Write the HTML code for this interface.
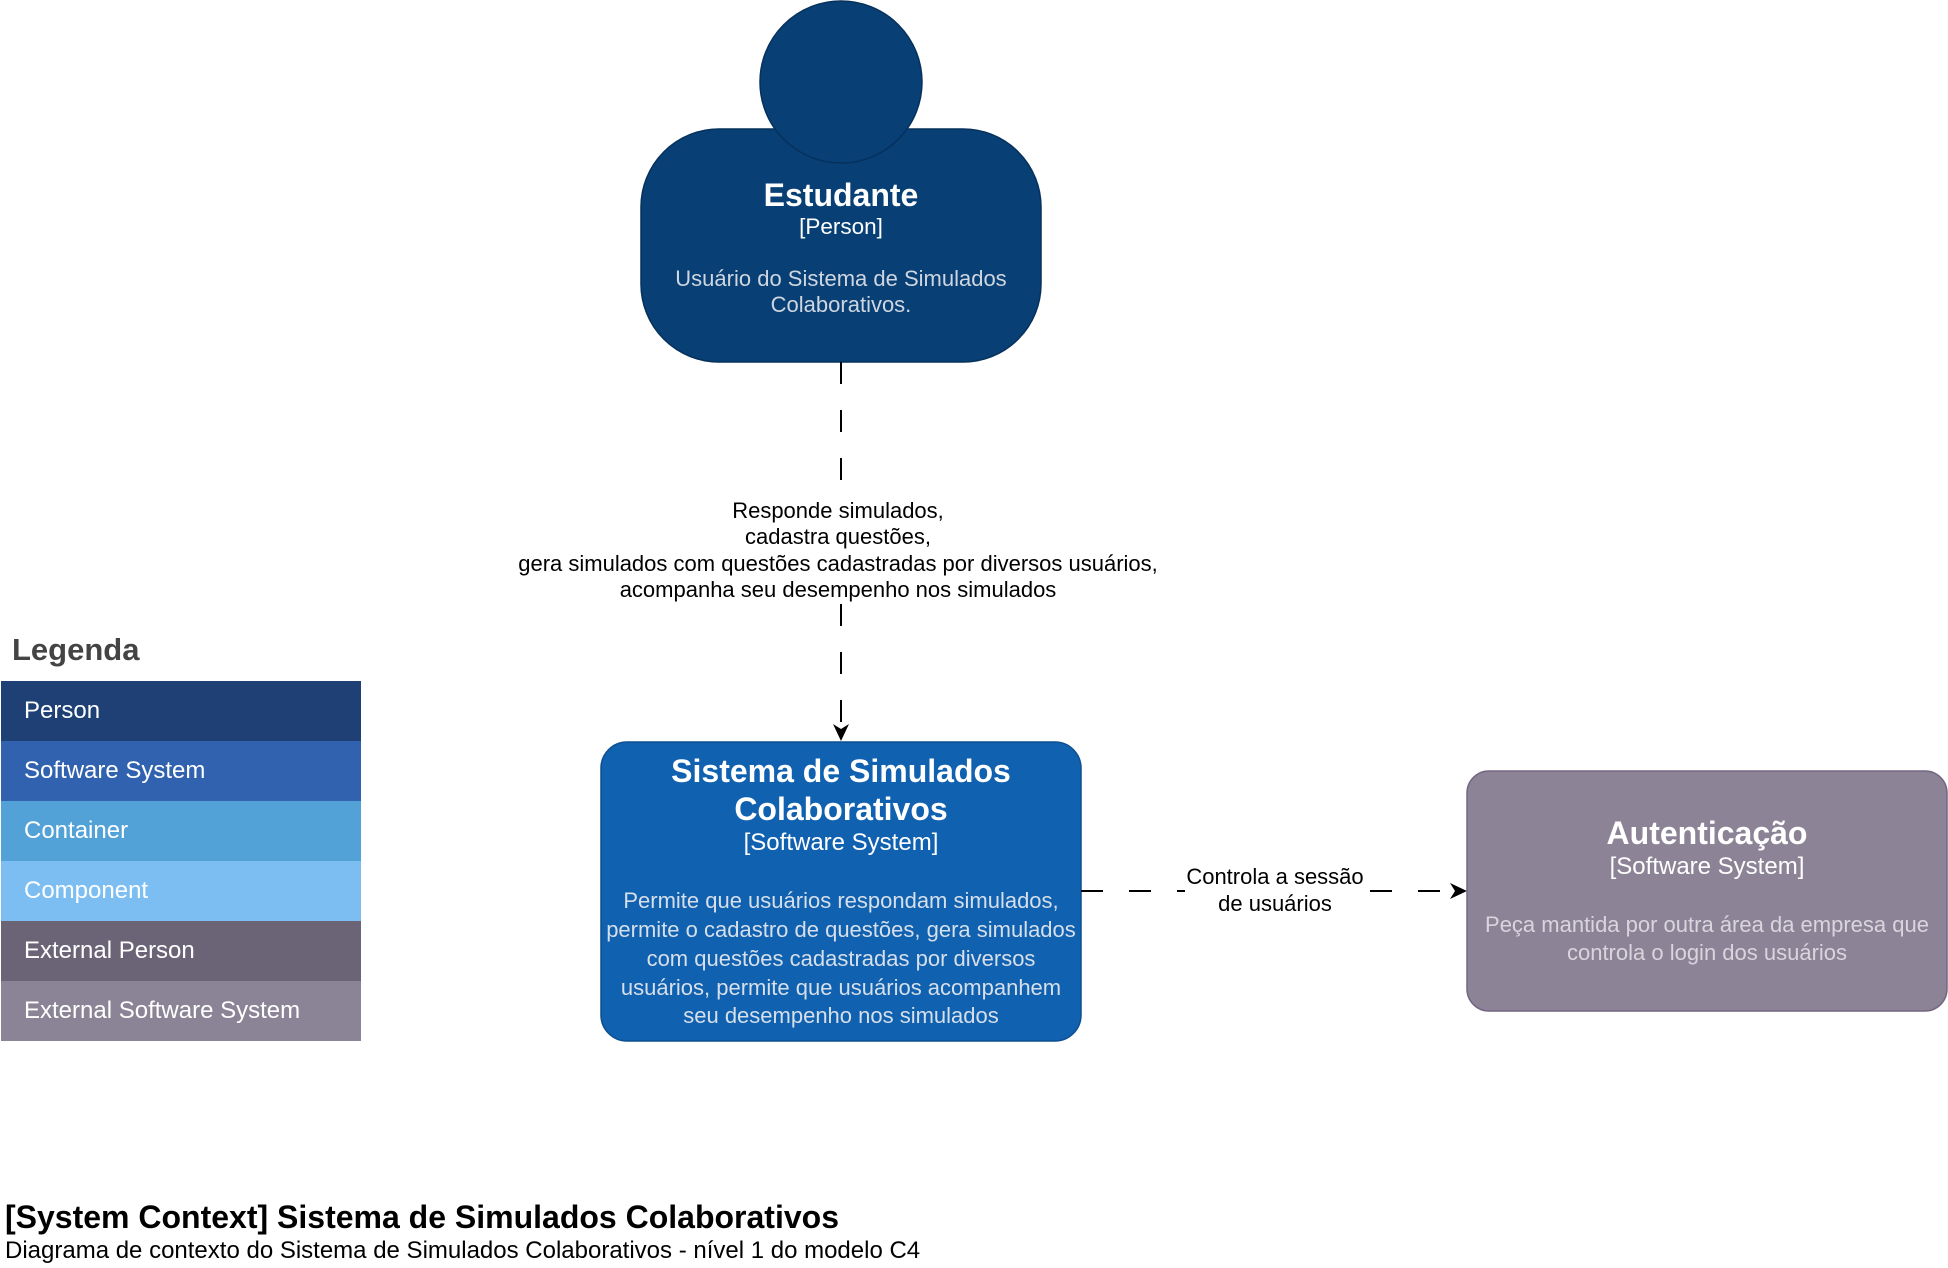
<!DOCTYPE html>
<html><head><meta charset="utf-8"><style>
html,body{margin:0;padding:0;background:#fff;}
svg{display:block;font-family:"Liberation Sans",Arial,sans-serif;}
</style></head><body>
<svg width="1948" height="1268" viewBox="0 0 1948 1268" xmlns="http://www.w3.org/2000/svg">
<defs><marker id="ar" markerWidth="18" markerHeight="18" refX="16" refY="9" orient="auto" markerUnits="userSpaceOnUse"><path d="M0,1 L17,9 L0,17 L5,9 Z" fill="#000"/></marker></defs>
<!-- person -->
<rect x="641" y="129" width="400" height="233" rx="78" fill="#083F75" stroke="#06315C" stroke-width="1.5"/>
<circle cx="841" cy="82" r="81" fill="#083F75" stroke="#06315C" stroke-width="1.5"/>
<text x="841" y="206" text-anchor="middle" fill="#fff" font-size="32" font-weight="bold">Estudante</text>
<text x="841" y="234" text-anchor="middle" fill="#fff" font-size="22.5">[Person]</text>
<text x="841" y="286" text-anchor="middle" fill="#cfd6e0" font-size="22">Usuário do Sistema de Simulados</text>
<text x="841" y="312" text-anchor="middle" fill="#cfd6e0" font-size="22">Colaborativos.</text>
<!-- vertical connector -->
<line x1="841" y1="362" x2="841" y2="490" stroke="#000" stroke-width="2" stroke-dasharray="22 26"/>
<line x1="841" y1="604" x2="841" y2="740" stroke="#000" stroke-width="2" stroke-dasharray="22 26" marker-end="url(#ar)"/>
<g font-size="22" fill="#000" text-anchor="middle">
<text x="838" y="518">Responde simulados,</text>
<text x="838" y="544">cadastra questões,</text>
<text x="838" y="571">gera simulados com questões cadastradas por diversos usuários,</text>
<text x="838" y="597">acompanha seu desempenho nos simulados</text>
</g>
<!-- system -->
<rect x="601" y="742" width="480" height="299" rx="26" fill="#1061B0" stroke="#0D4F90" stroke-width="1.5"/>
<text x="841" y="782" text-anchor="middle" fill="#fff" font-size="32" font-weight="bold">Sistema de Simulados</text>
<text x="841" y="820" text-anchor="middle" fill="#fff" font-size="32" font-weight="bold">Colaborativos</text>
<text x="841" y="850" text-anchor="middle" fill="#fff" font-size="24">[Software System]</text>
<g font-size="22" fill="#d6dfea" text-anchor="middle">
<text x="841" y="908">Permite que usuários respondam simulados,</text>
<text x="841" y="937">permite o cadastro de questões, gera simulados</text>
<text x="841" y="966">com questões cadastradas por diversos</text>
<text x="841" y="995">usuários, permite que usuários acompanhem</text>
<text x="841" y="1023">seu desempenho nos simulados</text>
</g>
<!-- horizontal connector -->
<line x1="1081" y1="891" x2="1185" y2="891" stroke="#000" stroke-width="2" stroke-dasharray="22 26"/>
<line x1="1370" y1="891" x2="1466" y2="891" stroke="#000" stroke-width="2" stroke-dasharray="22 26" marker-end="url(#ar)"/>
<text x="1275" y="884" text-anchor="middle" font-size="22">Controla a sessão</text>
<text x="1275" y="911" text-anchor="middle" font-size="22">de usuários</text>
<!-- auth -->
<rect x="1467" y="771" width="480" height="240" rx="22" fill="#8C8496" stroke="#736782" stroke-width="1.5"/>
<text x="1707" y="844" text-anchor="middle" fill="#fff" font-size="32" font-weight="bold">Autenticação</text>
<text x="1707" y="874" text-anchor="middle" fill="#fff" font-size="24">[Software System]</text>
<text x="1707" y="932" text-anchor="middle" fill="#d9d5de" font-size="22">Peça mantida por outra área da empresa que</text>
<text x="1707" y="960" text-anchor="middle" fill="#d9d5de" font-size="22">controla o login dos usuários</text>
<!-- legend -->
<text x="12" y="660" font-size="31" font-weight="bold" fill="#444">Legenda</text>
<rect x="1" y="681" width="360" height="60" fill="#1E4074"/>
<rect x="1" y="741" width="360" height="60" fill="#3162AF"/>
<rect x="1" y="801" width="360" height="60" fill="#52A2D8"/>
<rect x="1" y="861" width="360" height="60" fill="#7DBEF2"/>
<rect x="1" y="921" width="360" height="60" fill="#6B6477"/>
<rect x="1" y="981" width="360" height="60" fill="#8B8496"/>
<g font-size="24" fill="#fff">
<text x="24" y="718">Person</text>
<text x="24" y="778">Software System</text>
<text x="24" y="838">Container</text>
<text x="24" y="898">Component</text>
<text x="24" y="958">External Person</text>
<text x="24" y="1018">External Software System</text>
</g>
<!-- title -->
<text x="5" y="1228" font-size="32" font-weight="bold">[System Context] Sistema de Simulados Colaborativos</text>
<text x="5" y="1258" font-size="24">Diagrama de contexto do Sistema de Simulados Colaborativos - nível 1 do modelo C4</text>
</svg>
</body></html>
